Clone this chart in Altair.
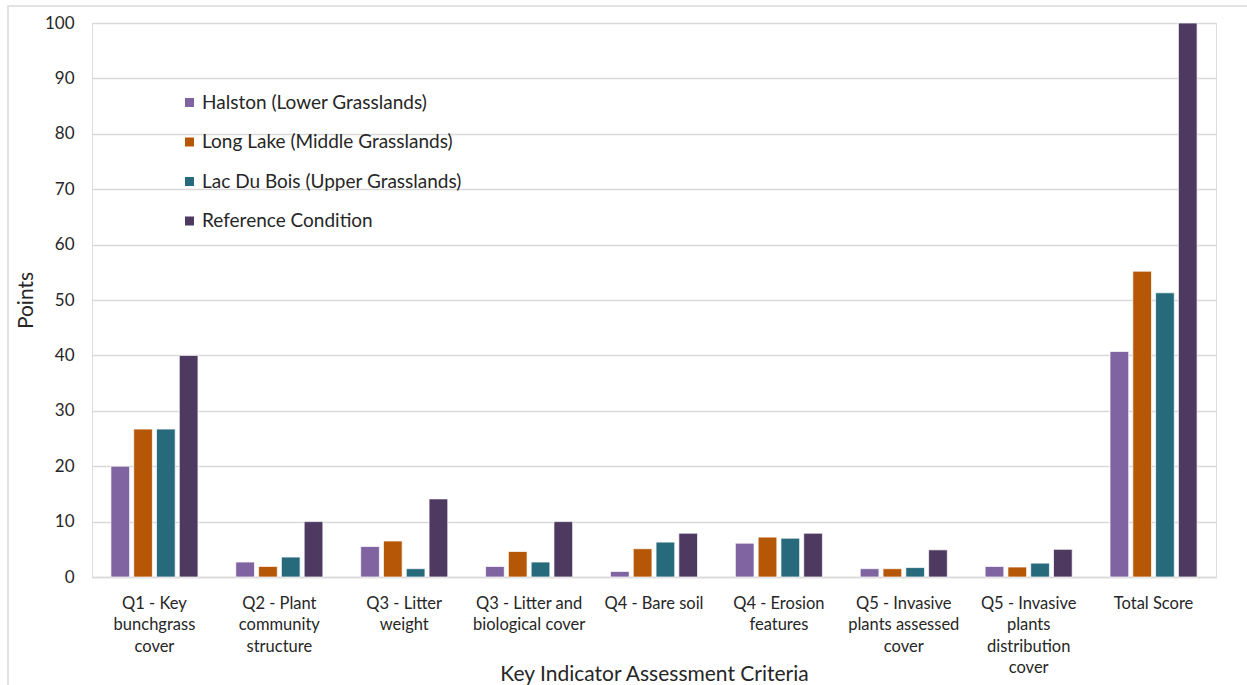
import altair as alt
import pandas as pd

categories = [
    "Q1 - Key|bunchgrass|cover",
    "Q2 - Plant|community|structure",
    "Q3 - Litter|weight",
    "Q3 - Litter and|biological cover",
    "Q4 - Bare soil",
    "Q4 - Erosion|features",
    "Q5 - Invasive|plants assessed|cover",
    "Q5 - Invasive|plants|distribution|cover",
    "Total Score",
]
series = [
    "Halston (Lower Grasslands)",
    "Long Lake (Middle Grasslands)",
    "Lac Du Bois (Upper Grasslands)",
    "Reference Condition",
]
halston = [20.0, 2.7, 5.5, 1.9, 1.0, 6.1, 1.5, 1.9, 40.7]
long_lake = [26.7, 1.9, 6.5, 4.6, 5.1, 7.2, 1.5, 1.8, 55.2]
lac_du_bois = [26.7, 3.6, 1.5, 2.7, 6.3, 7.0, 1.7, 2.5, 51.3]
reference = [40.0, 10.0, 14.1, 10.0, 7.9, 7.9, 4.9, 5.0, 100.0]
colors = ["#8064A2", "#B65708", "#276A7C", "#4E3A61"]

rows = []
for name, vals in zip(series, [halston, long_lake, lac_du_bois, reference]):
    for c, v in zip(categories, vals):
        rows.append({"Criteria": c, "Series": name, "Points": v})
df = pd.DataFrame(rows)

FONT = "Lato"

bars = alt.Chart(df).mark_bar(stroke="white", strokeWidth=1, strokeOpacity=0.7).encode(
    x=alt.X(
        "Criteria:N",
        sort=categories,
        scale=alt.Scale(paddingInner=0.27, paddingOuter=0.135),
        axis=alt.Axis(
            title="Key Indicator Assessment Criteria",
            labelAngle=0,
            labelExpr="split(datum.label, '|')",
            labelFont=FONT,
            labelFontSize=16.5,
            labelLineHeight=21.5,
            labelColor="#262626",
            labelPadding=18,
            labelBaseline="top",
            labelLimit=0,
            ticks=False,
            domain=True,
            domainColor="#d9d9d9",
            domainWidth=1.5,
            titleFont=FONT,
            titleFontSize=21,
            titleFontWeight="normal",
            titleColor="#262626",
            titleY=97,
            titleBaseline="middle",
        ),
    ),
    xOffset=alt.XOffset("Series:N", sort=series,
                        scale=alt.Scale(paddingInner=0.18, paddingOuter=0.09)),
    y=alt.Y(
        "Points:Q",
        scale=alt.Scale(domain=[0, 100], nice=False),
        axis=alt.Axis(
            title="Points",
            values=list(range(0, 101, 10)),
            labelFont=FONT,
            labelFontSize=17,
            labelColor="#262626",
            labelPadding=18,
            ticks=False,
            domain=False,
            gridColor="#d9d9d9",
            gridWidth=1.5,
            titleFont=FONT,
            titleFontSize=21,
            titleFontWeight="normal",
            titleColor="#262626",
            titlePadding=8,
        ),
    ),
    color=alt.Color(
        "Series:N",
        sort=series,
        scale=alt.Scale(domain=series, range=colors),
        legend=alt.Legend(
            title=None,
            orient="none",
            legendX=88,
            legendY=70,
            symbolType="square",
            symbolSize=81,
            symbolStrokeWidth=0,
            labelFont=FONT,
            labelFontSize=19,
            labelColor="#262626",
            labelOffset=3,
            labelLimit=0,
            rowPadding=19.5,
            padding=0,
        ),
    ),
)

frame = alt.Chart(pd.DataFrame({"a": [0]})).mark_rect(
    fill=None, stroke="#d9d9d9", strokeWidth=1.5
).encode(
    x=alt.value(-84), x2=alt.value(1250), y=alt.value(-17), y2=alt.value(700)
)

chart = alt.layer(frame, bars).properties(
    width=1124,
    height=554,
    padding={"left": 92, "top": 23, "right": 31, "bottom": 108},
    autosize=alt.AutoSizeParams(type="none"),
).configure_view(stroke=None).configure(background="white")

chart.save("out.html", embed_options={"renderer": "svg", "actions": False})
